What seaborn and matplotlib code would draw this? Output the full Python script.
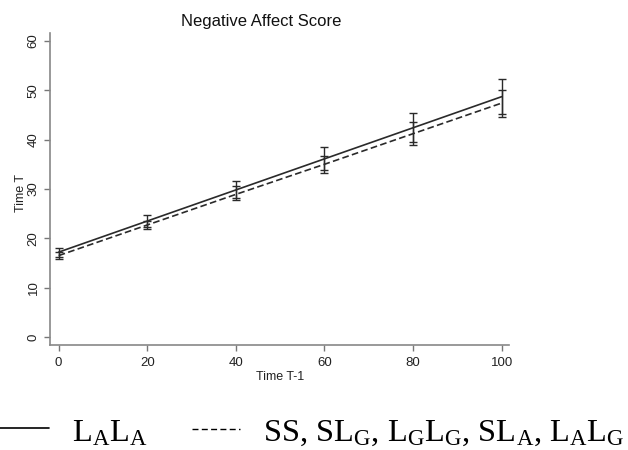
import matplotlib
matplotlib.use("Agg")
import matplotlib.pyplot as plt
from matplotlib.lines import Line2D
import seaborn as sns
import pandas as pd
import numpy as np

# ---- data ----
x_vals = [0, 20, 40, 60, 80, 100]
solid_fit = [17.2, 23.5, 29.8, 36.1, 42.4, 48.7]
solid_lo = [16.3, 22.2, 28.1, 33.9, 39.6, 45.2]
solid_hi = [18.1, 24.8, 31.6, 38.5, 45.4, 52.3]
dash_fit = [16.5, 22.7, 28.9, 35.0, 41.2, 47.4]
dash_lo = [15.8, 21.9, 27.8, 33.3, 38.9, 44.6]
dash_hi = [17.3, 23.6, 30.6, 36.6, 43.6, 50.1]
x_ticks = [0, 20, 40, 60, 80, 100]
y_ticks = [0, 10, 20, 30, 40, 50, 60]
series_names = ["LALA", "Others"]
legend_solid = r"L$_\mathrm{A}$L$_\mathrm{A}$"
legend_dash = (r"SS, SL$_\mathrm{G}$, L$_\mathrm{G}$L$_\mathrm{G}$, "
               r"SL$_\mathrm{A}$, L$_\mathrm{A}$L$_\mathrm{G}$")

sns.set_style("white")
plt.rcParams['font.family'] = ['Liberation Sans', 'DejaVu Sans']
plt.rcParams['mathtext.fontset'] = 'custom'
plt.rcParams['mathtext.rm'] = 'Liberation Serif'
plt.rcParams['mathtext.it'] = 'Liberation Serif:italic'

df = pd.DataFrame({
    "x": x_vals + x_vals,
    "y": solid_fit + dash_fit,
    "series": [series_names[0]] * len(x_vals) + [series_names[1]] * len(x_vals),
})

W, H = 628, 450
fig = plt.figure(figsize=(6.28, 4.5), dpi=100)
ax = fig.add_axes([50 / W, 1 - 345 / H, 459 / W, 312 / H])

line_col = "#2a2a2a"
sns.lineplot(data=df, x="x", y="y", style="series", ax=ax, color=line_col,
             dashes={series_names[0]: "", series_names[1]: (4, 2)},
             linewidth=1.2, legend=False)

for fit, lo, hi in [(solid_fit, solid_lo, solid_hi), (dash_fit, dash_lo, dash_hi)]:
    fit = np.array(fit); lo = np.array(lo); hi = np.array(hi)
    ax.errorbar(x_vals, fit, yerr=[fit - lo, hi - fit], fmt="none",
                ecolor=line_col, elinewidth=1.0, capsize=2.6, capthick=1.0)

ax.set_xlim(-1.96, 101.65)
ax.set_ylim(-1.62, 61.6)
ax.set_xticks(x_ticks)
ax.set_yticks(y_ticks)
ax.set_yticklabels([str(v) for v in y_ticks], rotation=90, va="center")
ax.tick_params(axis="both", direction="out", length=4, width=1, color="#777777",
               labelsize=9.5, labelcolor="#222222", bottom=True, left=True)
ax.tick_params(axis="x", pad=5)
ax.tick_params(axis="y", pad=3.5)
for s in ["top", "right"]:
    ax.spines[s].set_visible(False)
for s in ["left", "bottom"]:
    ax.spines[s].set_color("#888888")
    ax.spines[s].set_linewidth(1.2)

ax.set_xlabel("Time T-1", fontsize=9, color="#222222")
ax.xaxis.label.set_va("center")
ax.xaxis.set_label_coords((280 - 50) / 459, (345 - 376.5) / 312)
ax.set_ylabel("Time T", fontsize=9, color="#222222")
ax.yaxis.label.set_va("center")
ax.yaxis.set_label_coords((21.5 - 50) / 459, (345 - 193) / 312)
fig.text(261 / W, 1 - 21.5 / H, "Negative Affect Score", ha="center", va="center",
         fontsize=12, color="#111111")

# ---- legend below ----
ly = 1 - 428 / H
fig.add_artist(Line2D([0 / W, 49 / W], [ly, ly], color="black", linewidth=1.2,
                      transform=fig.transFigure))
fig.text(72 / W, 1 - 441 / H, legend_solid, ha="left", va="baseline",
         fontsize=23.4, family="Liberation Serif", color="black")
ly2 = 1 - 429 / H
fig.add_artist(Line2D([192 / W, 240 / W], [ly2, ly2], color="black",
                      linewidth=1.0, linestyle=(0, (4.3, 2.4)),
                      transform=fig.transFigure))
fig.text(263 / W, 1 - 441 / H, legend_dash, ha="left", va="baseline",
         fontsize=23.4, family="Liberation Serif", color="black")

fig.savefig("out.png", dpi=100)
